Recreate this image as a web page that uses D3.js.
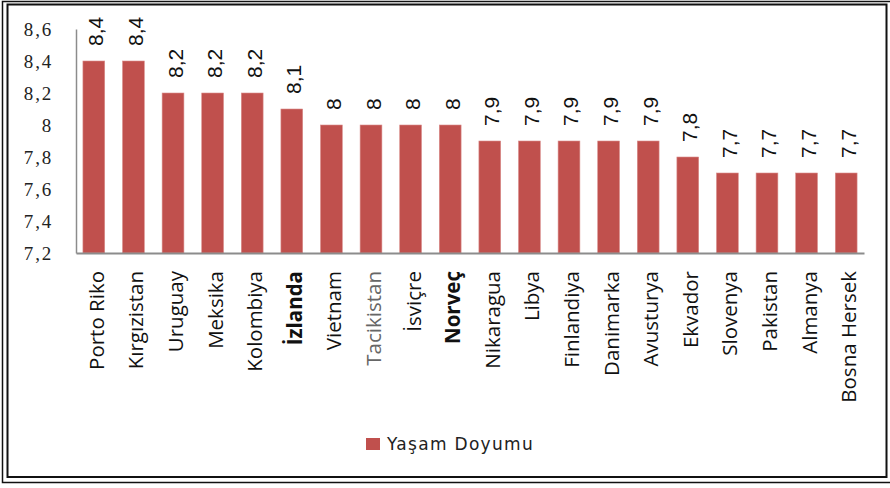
<!DOCTYPE html>
<html>
<head>
<meta charset="utf-8">
<script src="https://cdn.jsdelivr.net/npm/d3@7"></script>
<style>
    body { margin: 0; background: #fff; }
    svg { display: block; }
</style>
</head>
<body>
<div id="chart"></div>
<script>
// data
const countries = ["Porto Riko", "Kırgızistan", "Uruguay", "Meksika", "Kolombiya", "İzlanda", "Vietnam",
    "Tacikistan", "İsviçre", "Norveç", "Nikaragua", "Libya", "Finlandiya", "Danimarka", "Avusturya",
    "Ekvador", "Slovenya", "Pakistan", "Almanya", "Bosna Hersek"];
const values = [8.4, 8.4, 8.2, 8.2, 8.2, 8.1, 8, 8, 8, 8, 7.9, 7.9, 7.9, 7.9, 7.9, 7.8, 7.7, 7.7, 7.7, 7.7];
const yTicks = [7.2, 7.4, 7.6, 7.8, 8, 8.2, 8.4, 8.6];
const boldNames = ["İzlanda", "Norveç"];
const greyNames = ["Tacikistan"];
const seriesName = "Yaşam Doyumu";

const width = 890, height = 488;
const plot = { left: 76, right: 864, top: 29, bottom: 253 };
const barColor = "#C0504D";
const fmt = v => String(+v.toFixed(1)).replace(".", ",");

const svg = d3.select("#chart").append("svg")
    .attr("width", width)
    .attr("height", height);

// double frame
svg.append("rect")
    .attr("x", 2.5).attr("y", 1.5)
    .attr("width", 900).attr("height", 481)
    .attr("fill", "none").attr("stroke", "#111").attr("stroke-width", 1.5);
svg.append("rect")
    .attr("x", 7.5).attr("y", 4.5)
    .attr("width", 879).attr("height", 472.5)
    .attr("fill", "#fff").attr("stroke", "#111").attr("stroke-width", 2);

const x = d3.scaleBand()
    .domain(countries)
    .range([plot.left, plot.right])
    .paddingInner(0.45)
    .paddingOuter(0.175);

const y = d3.scaleLinear()
    .domain([7.2, 8.6])
    .range([plot.bottom, plot.top]);

// y axis
const yAxis = svg.append("g")
    .attr("transform", `translate(${plot.left},0)`)
    .call(d3.axisLeft(y).tickValues(yTicks).tickSize(0).tickPadding(23).tickFormat(fmt));
yAxis.select(".domain").attr("stroke", "#8c8c8c").attr("stroke-width", 1.5);
yAxis.selectAll("text")
    .attr("fill", "#222")
    .style("font-family", "'Liberation Serif', 'Times New Roman', serif")
    .style("font-size", "19px")
    .style("letter-spacing", "1.8px");

// bars
svg.selectAll(".bar")
    .data(countries)
    .enter()
    .append("rect")
    .attr("class", "bar")
    .attr("x", d => x(d))
    .attr("y", (d, i) => y(values[i]))
    .attr("width", x.bandwidth())
    .attr("height", (d, i) => y(7.2) - y(values[i]))
    .attr("fill", barColor)
    .attr("stroke", "#d98c8a")
    .attr("stroke-width", 0.6);

// x axis line
const xAxis = svg.append("g")
    .attr("transform", `translate(0,${plot.bottom})`)
    .call(d3.axisBottom(x).tickSize(0).tickFormat(""));
xAxis.select(".domain").attr("stroke", "#8c8c8c").attr("stroke-width", 2);

// value labels, rotated
svg.selectAll(".val")
    .data(countries)
    .enter()
    .append("text")
    .attr("class", "val")
    .attr("transform", (d, i) => `translate(${x(d) + x.bandwidth() / 2 + 9.5},${y(values[i]) - 15}) rotate(-90)`)
    .attr("text-anchor", "start")
    .attr("fill", "#111")
    .style("font-family", "'Liberation Sans', Arial, sans-serif")
    .style("font-size", "21px")
    .text((d, i) => fmt(values[i]));

// category labels, rotated
svg.selectAll(".cat")
    .data(countries)
    .enter()
    .append("text")
    .attr("class", "cat")
    .attr("transform", d => `translate(${x(d) + x.bandwidth() / 2 + 10},${plot.bottom + 18}) rotate(-90)`)
    .attr("text-anchor", "end")
    .attr("fill", d => greyNames.includes(d) ? "#666" : "#111")
    .style("font-family", "'Open Sans', sans-serif")
    .style("font-size", "20.5px")
    .style("font-weight", d => boldNames.includes(d) ? "bold" : "normal")
    .text(d => d);

// legend
const legend = svg.append("g").attr("transform", "translate(366,438)");
legend.append("rect")
    .attr("width", 14).attr("height", 12)
    .attr("fill", barColor);
legend.append("text")
    .attr("x", 21).attr("y", 12)
    .attr("fill", "#222")
    .style("font-family", "'DejaVu Sans', sans-serif")
    .style("font-size", "17px")
    .style("letter-spacing", "1.3px")
    .text(seriesName);
</script>
</body>
</html>
